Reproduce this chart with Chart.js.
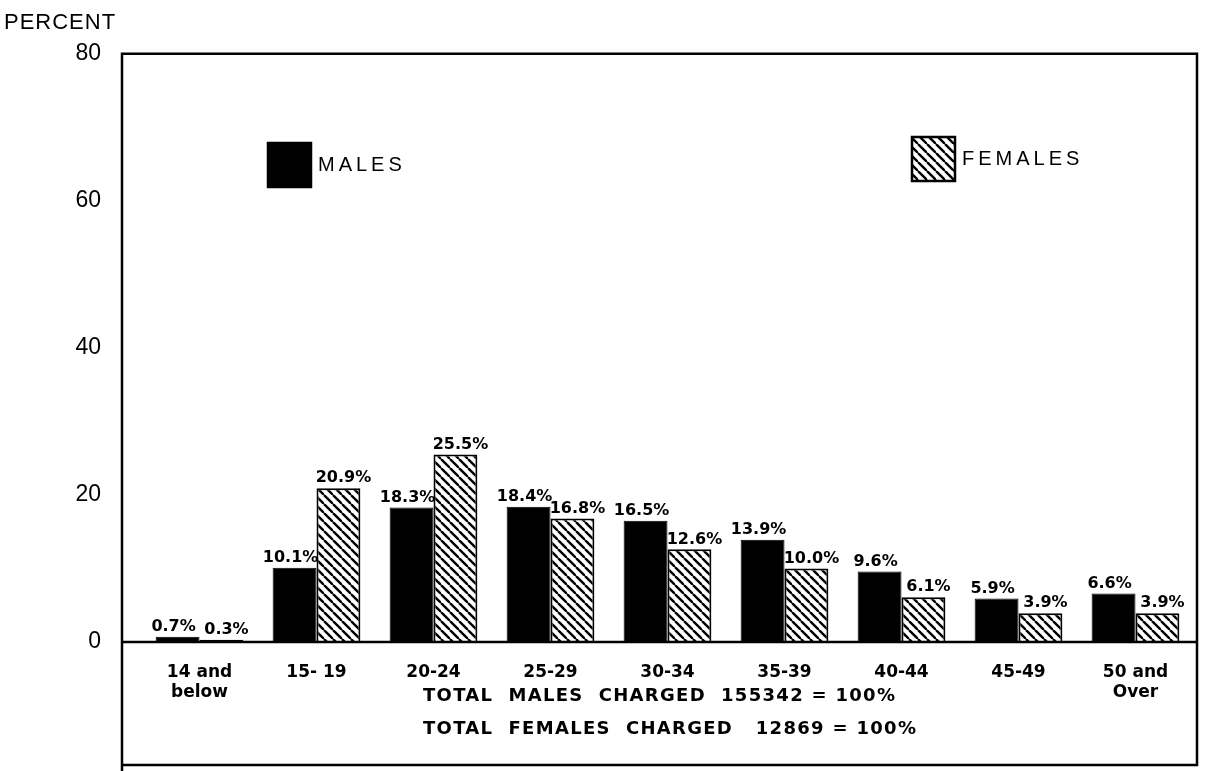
<!DOCTYPE html>
<html>
<head>
<meta charset="utf-8">
<script src="https://cdn.jsdelivr.net/npm/chart.js@4/dist/chart.umd.min.js"></script>
<style>
  html, body { margin: 0; padding: 0; background: #fff; }
  #wrap { width: 1209px; height: 771px; position: relative; }
</style>
</head>
<body>
<div id="wrap"><canvas id="chart"></canvas></div>
<script>
const ageGroups = [["14 and", "below"], "15- 19", "20-24", "25-29", "30-34", "35-39", "40-44", "45-49", ["50 and", "Over"]];
const malesPct = [0.7, 10.1, 18.3, 18.4, 16.5, 13.9, 9.6, 5.9, 6.6];
const femalesPct = [0.3, 20.9, 25.5, 16.8, 12.6, 10.0, 6.1, 3.9, 3.9];
const seriesNames = ["MALES", "FEMALES"];
const yAxisTitle = "PERCENT";
const totalsLines = ["TOTAL  MALES  CHARGED  155342 = 100%", "TOTAL  FEMALES  CHARGED   12869 = 100%"];

const INK = "#000";
const SANS = "'Liberation Sans', Arial, sans-serif";
const LETTER = "'DejaVu Sans', sans-serif";

// diagonal "\\\" hatch used for the female bars
function makeHatch() {
  const s = 9;
  const tile = document.createElement("canvas");
  tile.width = s;
  tile.height = s;
  const g = tile.getContext("2d");
  g.fillStyle = "#fff";
  g.fillRect(0, 0, s, s);
  g.strokeStyle = INK;
  g.lineWidth = 2.4;
  for (const o of [-s, 0, s]) {
    g.beginPath();
    g.moveTo(o, 0);
    g.lineTo(o + s, s);
    g.stroke();
  }
  return g.createPattern(tile, "repeat");
}
const hatch = makeHatch();

const framePlugin = {
  id: "frame",
  afterDraw(chart) {
    const { ctx, chartArea: a, scales } = chart;
    const left = a.left - 19, right = a.right + 3, bottom = 765;
    const zeroY = scales.y.getPixelForValue(0);
    ctx.save();
    ctx.strokeStyle = INK;
    ctx.lineWidth = 2.5;
    ctx.beginPath();
    ctx.moveTo(left, 771);
    ctx.lineTo(left, a.top);
    ctx.lineTo(right, a.top);
    ctx.lineTo(right, bottom);
    ctx.lineTo(left, bottom);
    ctx.moveTo(left, zeroY);
    ctx.lineTo(right, zeroY);
    ctx.stroke();

    // axis title
    ctx.fillStyle = INK;
    ctx.font = `22px ${SANS}`;
    ctx.letterSpacing = "1px";
    ctx.textAlign = "left";
    ctx.textBaseline = "middle";
    ctx.fillText(yAxisTitle, 4, 23);

    // legend
    const items = [
      { x: 268, y: 143, fill: INK },
      { x: 912, y: 137, fill: hatch }
    ];
    ctx.font = `20px ${SANS}`;
    ctx.letterSpacing = "4px";
    items.forEach((it, i) => {
      ctx.fillStyle = it.fill;
      ctx.fillRect(it.x, it.y, 43, 44);
      ctx.lineWidth = 2.5;
      ctx.strokeRect(it.x, it.y, 43, 44);
      ctx.fillStyle = INK;
      ctx.fillText(seriesNames[i], it.x + 50, it.y + 22);
    });

    // totals
    ctx.font = `bold 18px ${LETTER}`;
    ctx.letterSpacing = "1.3px";
    ctx.fillText(totalsLines[0], 423, 696);
    ctx.fillText(totalsLines[1], 423, 729);
    ctx.restore();
  }
};

const valueLabels = {
  id: "valueLabels",
  afterDatasetsDraw(chart) {
    const { ctx } = chart;
    ctx.save();
    ctx.fillStyle = INK;
    ctx.font = `bold 16px ${LETTER}`;
    ctx.textAlign = "center";
    ctx.textBaseline = "bottom";
    chart.data.datasets.forEach((ds, di) => {
      const shift = di === 0 ? -4 : 5;
      chart.getDatasetMeta(di).data.forEach((bar, i) => {
        ctx.fillText(ds.data[i].toFixed(1) + "%", bar.x + shift, bar.y - 2);
      });
    });
    ctx.restore();
  }
};

new Chart(document.getElementById("chart"), {
  type: "bar",
  data: {
    labels: ageGroups,
    datasets: [
      {
        label: seriesNames[0],
        data: malesPct,
        backgroundColor: INK,
        borderColor: INK,
        borderWidth: 1,
        categoryPercentage: 0.75,
        barPercentage: 1.0
      },
      {
        label: seriesNames[1],
        data: femalesPct,
        backgroundColor: hatch,
        borderColor: INK,
        borderWidth: 2,
        categoryPercentage: 0.75,
        barPercentage: 1.0
      }
    ]
  },
  options: {
    responsive: true,
    maintainAspectRatio: false,
    animation: false,
    layout: { padding: { top: 50, right: 15, bottom: 0, left: 0 } },
    plugins: {
      legend: { display: false },
      tooltip: { enabled: false }
    },
    scales: {
      x: {
        grid: { display: false },
        border: { display: false },
        ticks: {
          color: INK,
          font: { family: LETTER, size: 17, weight: "bold", lineHeight: 1.2 },
          padding: 12,
          autoSkip: false,
          maxRotation: 0
        },
        afterFit(scale) { scale.height = 129; }
      },
      y: {
        min: 0,
        max: 80,
        grid: { display: false, drawTicks: false },
        border: { display: false },
        ticks: {
          stepSize: 20,
          color: INK,
          font: { family: SANS, size: 23 },
          padding: 40
        },
        afterFit(scale) { scale.width = 141; }
      }
    }
  },
  plugins: [framePlugin, valueLabels]
});
</script>
</body>
</html>
